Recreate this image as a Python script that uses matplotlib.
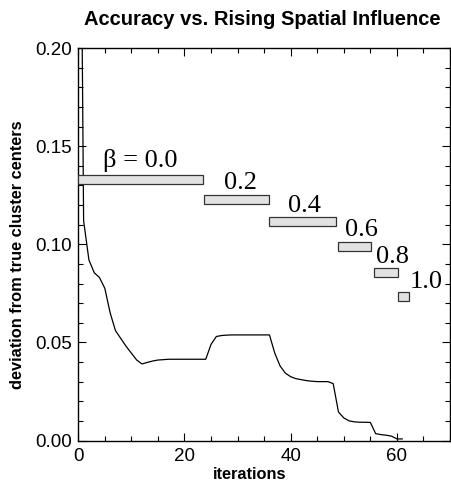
import matplotlib
matplotlib.use("Agg")
import matplotlib.pyplot as plt
from matplotlib.ticker import MultipleLocator

# line data: deviation per iteration
iterations = list(range(0, 62))
deviation = [0.45, 0.112, 0.092, 0.0855, 0.083, 0.0775, 0.065, 0.056, 0.052, 0.048,
             0.0445, 0.041, 0.039, 0.0398, 0.0405, 0.041, 0.0412, 0.0414, 0.0414, 0.0414,
             0.0414, 0.0414, 0.0414, 0.0414, 0.0414, 0.049, 0.053, 0.0535, 0.0537, 0.0538,
             0.0538, 0.0538, 0.0538, 0.0538, 0.0538, 0.0538, 0.0538, 0.0445, 0.038, 0.0343,
             0.0325, 0.0315, 0.031, 0.0305, 0.0302, 0.030, 0.030, 0.030, 0.029, 0.0145,
             0.0115, 0.0100, 0.0095, 0.0093, 0.0093, 0.0092, 0.0035, 0.003, 0.0027, 0.0022,
             0.0008, 0.0008]

# beta phases: label, start iteration, end iteration, level
beta_labels = ["β = 0.0", "0.2", "0.4", "0.6", "0.8", "1.0"]
phase_start = [0.0, 23.6, 36.0, 49.0, 55.6, 60.2]
phase_end = [23.5, 35.9, 48.6, 55.1, 60.2, 62.25]
phase_level = [0.1328, 0.1226, 0.1117, 0.0988, 0.0854, 0.0734]
label_x = [4.6, 27.4, 39.5, 50.2, 56.0, 62.4]
label_y = [0.1392, 0.1282, 0.1166, 0.1042, 0.0903, 0.0776]

x_ticks = [0, 20, 40, 60]
y_ticks = [0.00, 0.05, 0.10, 0.15, 0.20]

W, H = 451, 490
fig = plt.figure(figsize=(W / 100, H / 100), dpi=100)
ax = fig.add_axes([78.3 / W, 1 - 440.5 / H, (450 - 78.3) / W, (440.5 - 48) / H])

ax.plot(iterations, deviation, color="black", linewidth=0.9)

bar_h = 0.0045
for lab, s, e, lv, lx, ly in zip(beta_labels, phase_start, phase_end, phase_level, label_x, label_y):
    ax.barh(lv, e - s, left=s, height=bar_h, color="#e2e2e2", edgecolor="#333333",
            linewidth=0.9, zorder=3)
    ax.text(lx, ly, lab, family="Liberation Serif", fontsize=19, ha="left", va="baseline",
            zorder=4)

ax.set_xlim(0, 70)
ax.set_ylim(0, 0.2)
ax.set_xticks(x_ticks)
ax.set_yticks(y_ticks)
ax.set_yticklabels([f"{v:.2f}" for v in y_ticks])
ax.xaxis.set_minor_locator(MultipleLocator(5))
ax.yaxis.set_minor_locator(MultipleLocator(0.01))
ax.tick_params(which="both", direction="in", top=True, right=True, width=0.8)
ax.tick_params(which="major", length=6, labelsize=13.5, pad=4.5)
ax.tick_params(which="minor", length=3.5)
ax.tick_params(axis="x", which="major", pad=5.5)
for lbl in ax.get_xticklabels() + ax.get_yticklabels():
    lbl.set_family("Liberation Sans")
for sp in ax.spines.values():
    sp.set_linewidth(1.0)

fig.text(262.7 / W, 1 - 19.7 / H, "Accuracy vs. Rising Spatial Influence",
         family="Liberation Sans", fontweight="bold", fontsize=14.5, ha="center", va="center")
fig.text(250 / W, 1 - 474 / H, "iterations", family="Liberation Sans",
         fontweight="bold", fontsize=11.8, ha="center", va="center")
fig.text(18 / W, 1 - 255 / H, "deviation from true cluster centers", family="Liberation Sans",
         fontweight="bold", fontsize=11.8, ha="center", va="center", rotation=90)

fig.savefig("out.png", dpi=100)
